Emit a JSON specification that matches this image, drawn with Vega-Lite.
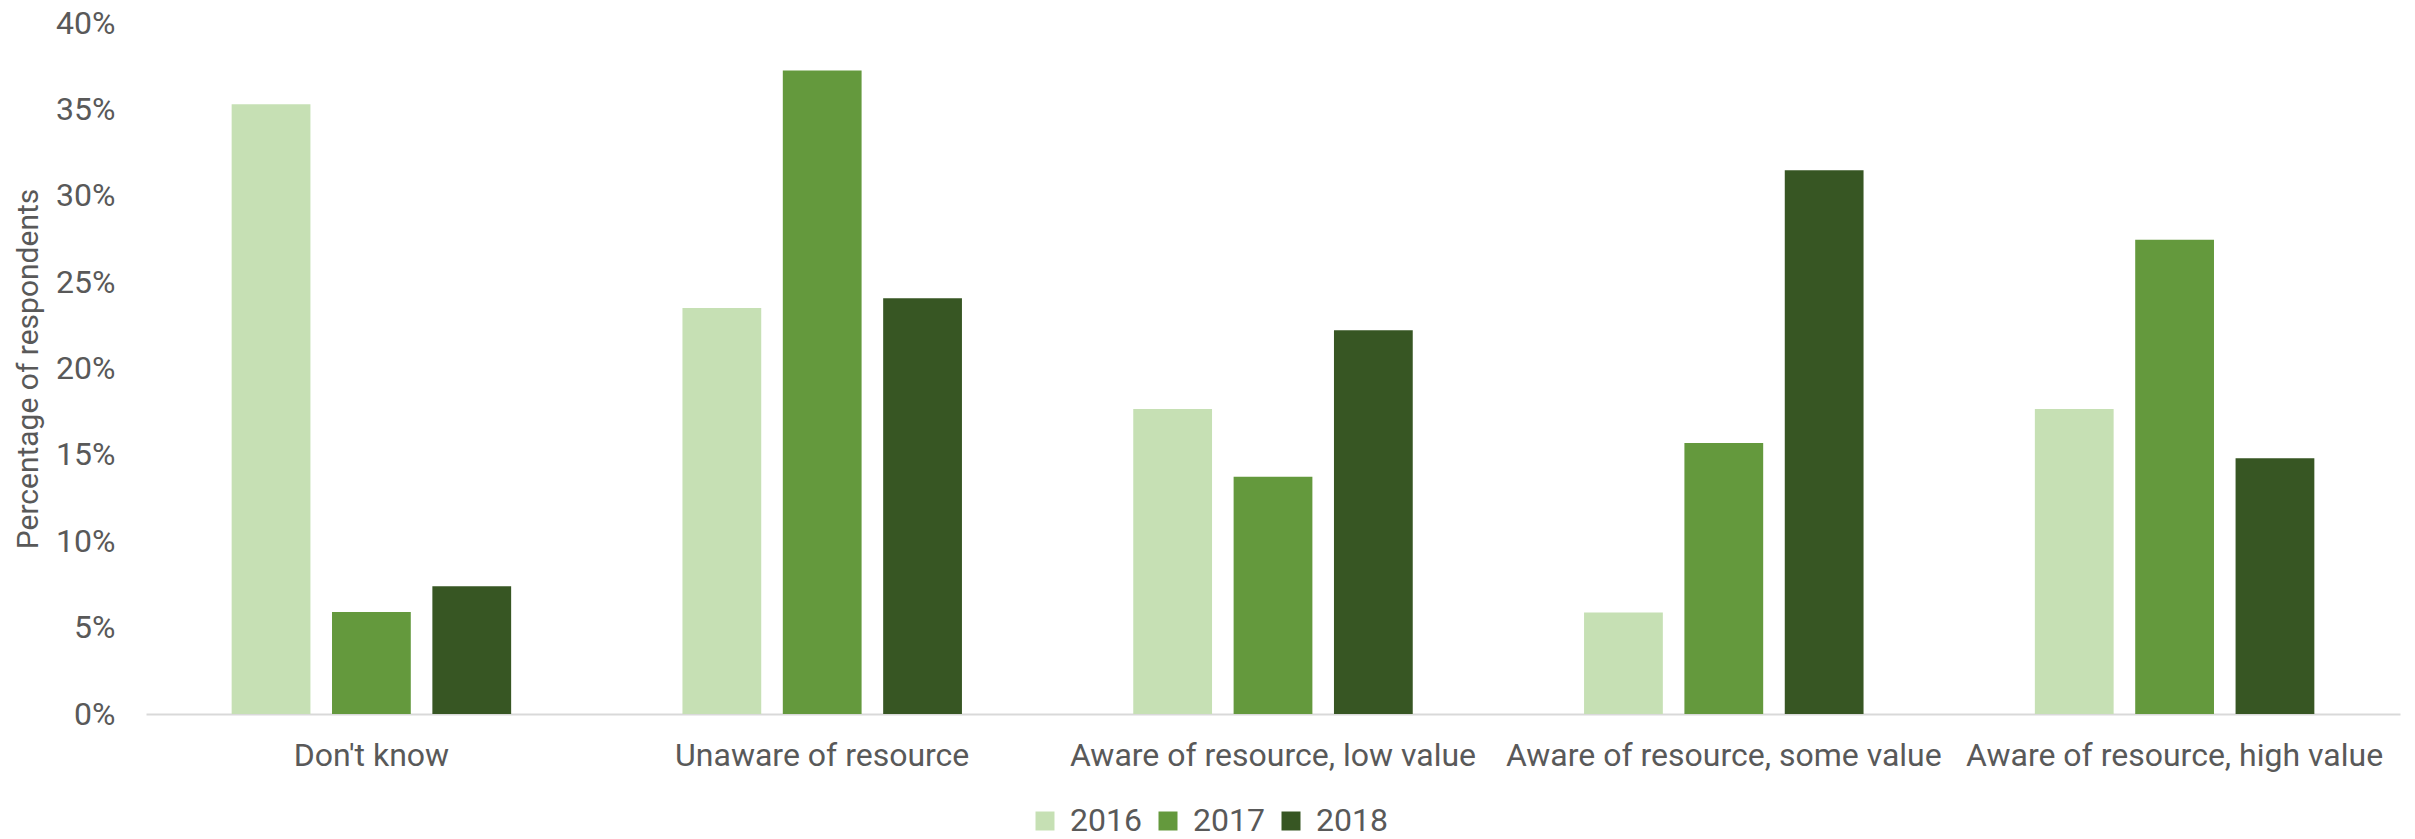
{
  "$schema": "https://vega.github.io/schema/vega-lite/v6.json",
  "width": 2254,
  "height": 691,
  "autosize": {"type": "none"},
  "padding": {"left": 146, "top": 23, "right": 15, "bottom": 125},
  "background": "white",
  "config": {
    "font": "Roboto",
    "view": {"stroke": null}
  },
  "data": {
    "values": [
      {"category": "Don't know", "year": "2016", "value": 0.353},
      {"category": "Don't know", "year": "2017", "value": 0.059},
      {"category": "Don't know", "year": "2018", "value": 0.074},
      {"category": "Unaware of resource", "year": "2016", "value": 0.235},
      {"category": "Unaware of resource", "year": "2017", "value": 0.3725},
      {"category": "Unaware of resource", "year": "2018", "value": 0.2407},
      {"category": "Aware of resource, low value", "year": "2016", "value": 0.1765},
      {"category": "Aware of resource, low value", "year": "2017", "value": 0.1373},
      {"category": "Aware of resource, low value", "year": "2018", "value": 0.2222},
      {"category": "Aware of resource, some value", "year": "2016", "value": 0.0588},
      {"category": "Aware of resource, some value", "year": "2017", "value": 0.1569},
      {"category": "Aware of resource, some value", "year": "2018", "value": 0.3148},
      {"category": "Aware of resource, high value", "year": "2016", "value": 0.1765},
      {"category": "Aware of resource, high value", "year": "2017", "value": 0.2745},
      {"category": "Aware of resource, high value", "year": "2018", "value": 0.1481}
    ]
  },
  "mark": {"type": "bar"},
  "encoding": {
    "x": {
      "field": "category",
      "type": "nominal",
      "sort": null,
      "scale": {"paddingInner": 0.38, "paddingOuter": 0.19},
      "axis": {
        "title": null,
        "labelAngle": 0,
        "labelFontSize": 32,
        "labelColor": "#595959",
        "labelPadding": 26,
        "ticks": false,
        "domainColor": "#d9d9d9",
        "domainWidth": 2,
        "labelLimit": 0
      }
    },
    "xOffset": {
      "field": "year",
      "type": "nominal",
      "scale": {"paddingInner": 0.215, "paddingOuter": 0}
    },
    "y": {
      "field": "value",
      "type": "quantitative",
      "scale": {"domain": [0, 0.4], "nice": false},
      "axis": {
        "title": "Percentage of respondents",
        "titleFontSize": 30,
        "titleFontWeight": "normal",
        "titleColor": "#595959",
        "titlePadding": 12,
        "format": ".0%",
        "values": [0, 0.05, 0.1, 0.15, 0.2, 0.25, 0.3, 0.35, 0.4],
        "labelFontSize": 32,
        "labelColor": "#595959",
        "labelPadding": 31,
        "ticks": false,
        "domain": false,
        "grid": false
      }
    },
    "color": {
      "field": "year",
      "type": "nominal",
      "scale": {"domain": ["2016", "2017", "2018"], "range": ["#c6e0b4", "#64993d", "#375623"]},
      "legend": {
        "title": null,
        "orient": "none",
        "legendX": 883,
        "legendY": 782,
        "direction": "horizontal",
        "symbolType": "square",
        "symbolSize": 361,
        "symbolStrokeWidth": 0,
        "labelFontSize": 32,
        "labelColor": "#595959",
        "labelOffset": 9,
        "columnPadding": 10
      }
    }
  }
}
